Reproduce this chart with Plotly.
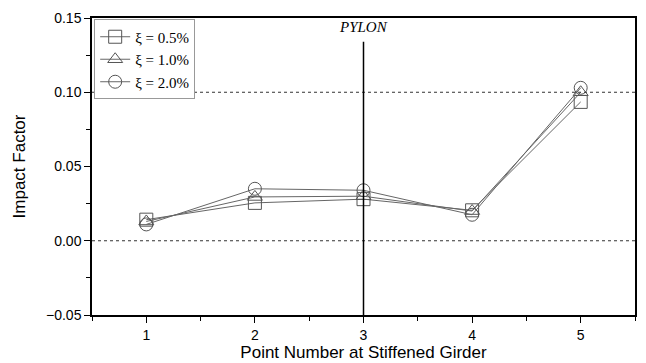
import plotly.graph_objects as go

points = [1, 2, 3, 4, 5]
xi_05 = [0.0142, 0.0255, 0.0280, 0.0205, 0.0935]
xi_10 = [0.0130, 0.0295, 0.0300, 0.0200, 0.1000]
xi_20 = [0.0110, 0.0350, 0.0340, 0.0175, 0.1030]
series_names = ["ξ = 0.5%", "ξ = 1.0%", "ξ = 2.0%"]
symbols = ["square-open", "triangle-up-open", "circle-open"]
y_ticks = [-0.05, 0.00, 0.05, 0.10, 0.15]
x_ticks = [1, 2, 3, 4, 5]
pylon_x = 3

fig = go.Figure()
for name, vals, sym in zip(series_names, [xi_05, xi_10, xi_20], symbols):
    fig.add_trace(go.Scatter(
        x=points, y=vals, name=name, mode="lines+markers",
        line=dict(color="#666666", width=1),
        marker=dict(symbol=sym, size=13, color="#555555", line=dict(width=1, color="#555555")),
    ))

for yv in [0.0, 0.10]:
    fig.add_shape(type="line", xref="paper", x0=0, x1=1, yref="y", y0=yv, y1=yv,
                  line=dict(color="#333333", width=1, dash="dot"))

fig.add_shape(type="line", xref="x", x0=pylon_x, x1=pylon_x, yref="paper", y0=0, y1=0.92,
              line=dict(color="black", width=1.5))
fig.add_annotation(x=pylon_x, y=1.0, xref="x", yref="paper", text="<i>PYLON</i>",
                   showarrow=False, yanchor="top", xanchor="center", yshift=1,
                   font=dict(family="Liberation Serif", size=15, color="black"))

fig.update_layout(
    width=646, height=363,
    margin=dict(l=92, r=9, t=18, b=48),
    plot_bgcolor="white", paper_bgcolor="white",
    font=dict(family="Liberation Sans", size=14, color="black"),
    showlegend=True,
    legend=dict(x=0.004, y=0.995, xanchor="left", yanchor="top",
                bordercolor="#999999", borderwidth=1, bgcolor="white",
                font=dict(family="Liberation Serif", size=15, color="black"),
                itemwidth=30, tracegroupgap=0),
    xaxis=dict(range=[0.5, 5.5], tickvals=x_ticks, ticktext=[str(v) for v in x_ticks],
               showgrid=False, zeroline=False, showline=True, linecolor="black", linewidth=1.5,
               mirror=True, ticks="outside", ticklen=6, tickwidth=1, tickcolor="black",
               minor=dict(tickvals=[0.5, 1.5, 2.5, 3.5, 4.5, 5.5], ticks="outside", ticklen=4, tickcolor="black"),
               title=dict(text="Point Number at Stiffened Girder", font=dict(size=17), standoff=0),
               tickfont=dict(size=14)),
    yaxis=dict(range=[-0.05, 0.15], tickvals=y_ticks, tickformat=".2f",
               showgrid=False, zeroline=False, showline=True, linecolor="black", linewidth=1.5,
               mirror=True, ticks="outside", ticklen=6, tickwidth=1, tickcolor="black",
               minor=dict(tickvals=[-0.025, 0.025, 0.075, 0.125], ticks="outside", ticklen=4, tickcolor="black"),
               title=dict(text="Impact Factor", font=dict(size=17), standoff=16),
               tickfont=dict(size=14)),
)

fig.write_html("out.html")
